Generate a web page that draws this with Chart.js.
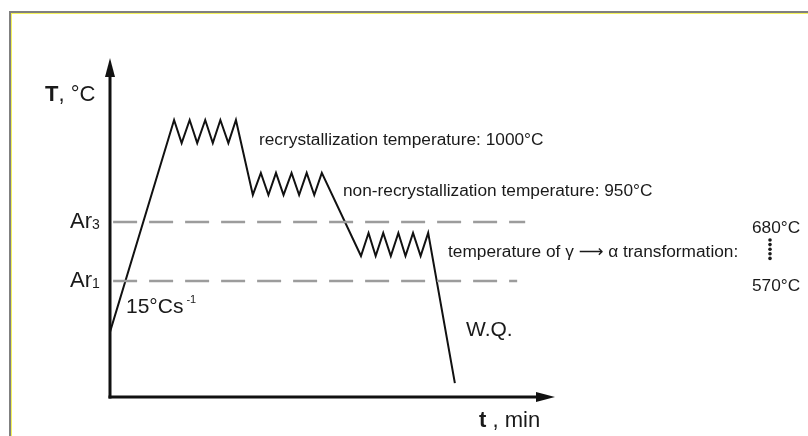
<!DOCTYPE html>
<html>
<head>
<meta charset="utf-8">
<script src="https://cdn.jsdelivr.net/npm/chart.js@4.4.1/dist/chart.umd.min.js"></script>
<style>
  html, body { margin: 0; padding: 0; background: #ffffff; }
  #wrap { width: 808px; height: 436px; }
</style>
</head>
<body>
<div id="wrap"><canvas id="c" width="808" height="436"></canvas></div>
<script>
// Thermomechanical schedule: reheating ramp, three rolling stages, water quench.
// Time and temperature are schematic units (0–100 on each axis).
const pathTime = [0, 14.4,
  14.4, 16.1, 17.9, 19.6, 21.4, 23.1, 24.8, 26.6, 28.3,
  32.1, 33.9, 35.6, 37.3, 39.0, 40.8, 42.5, 44.2, 45.9, 47.6,
  56.4, 58.1, 59.7, 61.4, 63.1, 64.8, 66.4, 68.1, 69.8, 71.5,
  77.5];
const pathTemp = [19.2, 81.7,
  81.7, 74.9, 81.7, 74.9, 81.7, 74.9, 81.7, 74.9, 81.7,
  59.6, 66.1, 59.6, 66.1, 59.6, 66.1, 59.6, 66.1, 59.6, 66.1,
  41.6, 48.4, 41.6, 48.4, 41.6, 48.4, 41.6, 48.4, 41.6, 48.4,
  4.1];

// Critical transformation temperatures (dashed reference lines)
const ar3Time = [0.7, 93.3];
const ar3Temp = [51.6, 51.6];
const ar1Time = [0.7, 91.5];
const ar1Temp = [34.2, 34.2];

// Text labels
const axisTitleY = ['T', ', °C'];
const axisTitleX = ['t', ' , min'];
const criticalLabels = [['Ar', '3'], ['Ar', '1']];
const rateLabel = ['15°Cs', '-1'];
const quenchLabel = 'W.Q.';
const stageLabels = [
  'recrystallization temperature: 1000°C',
  'non-recrystallization temperature: 950°C',
  'temperature of \u03B3 \u27F6 \u03B1 transformation:'
];
const rangeLabels = ['680°C', '570°C'];

function toPoints(xs, ys) { return xs.map((x, i) => ({ x: x, y: ys[i] })); }

const FONT = '"Liberation Sans", Arial, Helvetica, "DejaVu Sans", sans-serif';

// Background frame, axes with arrowheads, and all text annotations
const decorations = {
  id: 'decorations',
  beforeDraw(chart) {
    const ctx = chart.ctx;
    ctx.save();
    ctx.fillStyle = '#ffffff';
    ctx.fillRect(0, 0, chart.width, chart.height);
    ctx.fillStyle = '#808080';
    ctx.fillRect(9, 11, chart.width - 9, 2);
    ctx.fillRect(9, 11, 2, chart.height - 11);
    ctx.fillStyle = '#f4f25a';
    ctx.fillRect(11, 13, chart.width - 11, 1);
    ctx.fillRect(11, 13, 1, chart.height - 13);
    ctx.restore();
  },
  afterDatasetsDraw(chart) {
    const ctx = chart.ctx;
    const xs = chart.scales.x, ys = chart.scales.y;
    const x0 = xs.getPixelForValue(0), y0 = ys.getPixelForValue(0);
    const xTip = xs.getPixelForValue(100), yTip = ys.getPixelForValue(100);
    ctx.save();
    ctx.strokeStyle = '#111111';
    ctx.fillStyle = '#111111';
    ctx.lineWidth = 3;
    ctx.lineCap = 'butt';
    // vertical axis
    ctx.beginPath();
    ctx.moveTo(x0, y0 + 1.5);
    ctx.lineTo(x0, yTip + 14);
    ctx.stroke();
    ctx.beginPath();
    ctx.moveTo(x0, yTip);
    ctx.lineTo(x0 - 5, yTip + 19);
    ctx.lineTo(x0 + 5, yTip + 19);
    ctx.closePath();
    ctx.fill();
    // horizontal axis
    ctx.beginPath();
    ctx.moveTo(x0 - 1.5, y0);
    ctx.lineTo(xTip - 14, y0);
    ctx.stroke();
    ctx.beginPath();
    ctx.moveTo(xTip, y0);
    ctx.lineTo(xTip - 19, y0 - 5);
    ctx.lineTo(xTip - 19, y0 + 5);
    ctx.closePath();
    ctx.fill();

    ctx.fillStyle = '#1a1a1a';
    ctx.textBaseline = 'middle';
    ctx.textAlign = 'left';

    function runs(x, y, parts) {
      let cx = x;
      parts.forEach(p => {
        ctx.font = p.font;
        ctx.fillText(p.text, cx, y + (p.dy || 0));
        cx += ctx.measureText(p.text).width + (p.gap || 0);
      });
    }
    const f = (s, w) => (w || '') + ' ' + s + 'px ' + FONT;

    runs(45, 95, [{ text: axisTitleY[0], font: f(22, 'bold') }, { text: axisTitleY[1], font: f(22) }]);
    runs(479, 421, [{ text: axisTitleX[0], font: f(22, 'bold') }, { text: axisTitleX[1], font: f(22) }]);
    runs(70, ys.getPixelForValue(ar3Temp[0]), [{ text: criticalLabels[0][0], font: f(22) }, { text: criticalLabels[0][1], font: f(14), dy: 3 }]);
    runs(70, ys.getPixelForValue(ar1Temp[0]), [{ text: criticalLabels[1][0], font: f(22) }, { text: criticalLabels[1][1], font: f(14), dy: 3 }]);
    runs(126, 307, [{ text: rateLabel[0], font: f(21), gap: 3 }, { text: rateLabel[1], font: f(11), dy: -7 }]);
    runs(466, 330, [{ text: quenchLabel, font: f(21) }]);
    ctx.font = f(17.3);
    ctx.fillText(stageLabels[0], 259, 140);
    ctx.fillText(stageLabels[1], 343, 191);
    ctx.fillText(stageLabels[2], 448, 252);
    ctx.fillText(rangeLabels[0], 752, 228);
    ctx.fillText(rangeLabels[1], 752, 286);
    // dotted connector between the range limits
    for (let i = 0; i < 5; i++) {
      ctx.beginPath();
      ctx.arc(770, 240 + i * 4.6, 1.8, 0, Math.PI * 2);
      ctx.fill();
    }
    ctx.restore();
  }
};

new Chart(document.getElementById('c'), {
  type: 'scatter',
  data: {
    datasets: [
      {
        label: 'Ar3',
        data: toPoints(ar3Time, ar3Temp),
        showLine: true,
        borderColor: '#9c9c9c',
        borderWidth: 2.5,
        borderDash: [24, 12],
        pointRadius: 0
      },
      {
        label: 'Ar1',
        data: toPoints(ar1Time, ar1Temp),
        showLine: true,
        borderColor: '#9c9c9c',
        borderWidth: 2.5,
        borderDash: [24, 12],
        pointRadius: 0
      },
      {
        label: 'schedule',
        data: toPoints(pathTime, pathTemp),
        showLine: true,
        borderColor: '#111111',
        borderWidth: 2,
        pointRadius: 0,
        tension: 0
      }
    ]
  },
  options: {
    responsive: false,
    devicePixelRatio: 1,
    animation: false,
    layout: { padding: { left: 110, right: 253, top: 58, bottom: 39 } },
    plugins: { legend: { display: false }, tooltip: { enabled: false } },
    scales: {
      x: { type: 'linear', min: 0, max: 100, display: false },
      y: { type: 'linear', min: 0, max: 100, display: false }
    }
  },
  plugins: [decorations]
});
</script>
</body>
</html>
